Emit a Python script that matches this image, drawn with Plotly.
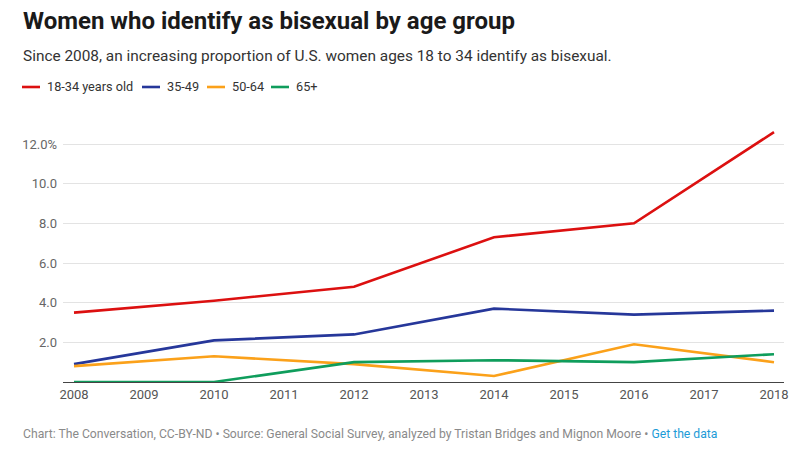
import plotly.graph_objects as go

years = [2008, 2010, 2012, 2014, 2016, 2018]
series_names = ["18-34 years old", "35-49", "50-64", "65+"]
age_18_34 = [3.5, 4.1, 4.8, 7.3, 8.0, 12.6]
age_35_49 = [0.9, 2.1, 2.4, 3.7, 3.4, 3.6]
age_50_64 = [0.8, 1.3, 0.9, 0.3, 1.9, 1.0]
age_65_plus = [0.0, 0.0, 1.0, 1.1, 1.0, 1.4]
colors = ["#dc1010", "#26379a", "#fba11a", "#0f9d5c"]
x_ticks = list(range(2008, 2019))
y_ticks = [2, 4, 6, 8, 10, 12]
y_tick_text = ["2.0", "4.0", "6.0", "8.0", "10.0", "12.0%"]

FONT = "Roboto, 'Noto Sans', Arial, sans-serif"

# page body has an 8px default margin: work in reference coords, offset by 8
OFF = 8
FW, FH = 800 - OFF, 456 - OFF

fig = go.Figure()
for name, vals, col in zip(series_names, [age_18_34, age_35_49, age_50_64, age_65_plus], colors):
    fig.add_trace(go.Scatter(x=years, y=vals, mode="lines", name=name,
                             line=dict(color=col, width=2.6), showlegend=False,
                             hovertemplate="%{x}: %{y:.1f}%<extra>" + name + "</extra>"))

# plot area in reference coords: x 63..784 px, y 130..382 px
L, R, T, B = 63, 784, 130, 382
W, H = R - L, B - T

def px(x):
    return (x - L) / W

def py(y):
    return (B - y) / H

# manual legend
leg_items = [(22, 45, "18-34 years old"), (142, 165, "35-49"), (207, 230, "50-64"), (271, 294, "65+")]
for (sx, tx, label), col in zip(leg_items, colors):
    fig.add_shape(type="line", xref="paper", yref="paper",
                  x0=px(sx), x1=px(sx + 18), y0=py(87), y1=py(87),
                  line=dict(color=col, width=2.6))
    fig.add_annotation(xref="paper", yref="paper", x=px(tx), y=py(87),
                       text=label, showarrow=False, xanchor="left", yanchor="middle",
                       font=dict(family=FONT, size=12.7, color="#333333"))

fig.add_annotation(xref="paper", yref="paper", x=px(21), y=py(21),
                   text="<b>Women who identify as bisexual by age group</b>",
                   showarrow=False, xanchor="left", yanchor="middle",
                   font=dict(family=FONT, size=24, color="#1a1a1a"))
fig.add_annotation(xref="paper", yref="paper", x=px(21), y=py(56),
                   text="Since 2008, an increasing proportion of U.S. women ages 18 to 34 identify as bisexual.",
                   showarrow=False, xanchor="left", yanchor="middle",
                   font=dict(family=FONT, size=15.4, color="#333333"))
fig.add_annotation(xref="paper", yref="paper", x=px(21), y=py(434),
                   text="Chart: The Conversation, CC-BY-ND • Source: General Social Survey, analyzed by Tristan Bridges and Mignon Moore • <span style='color:#1d9bd7'>Get the data</span>",
                   showarrow=False, xanchor="left", yanchor="middle",
                   font=dict(family=FONT, size=12.2, color="#8a8a8a"))

fig.update_layout(
    width=FW, height=FH,
    margin=dict(l=L - OFF, r=800 - R, t=T - OFF, b=456 - B, pad=0),
    paper_bgcolor="white", plot_bgcolor="white",
    font=dict(family=FONT),
    xaxis=dict(range=[2008 - 11 / 70, 2018 + 10 / 70], tickvals=x_ticks,
               ticktext=[str(v) for v in x_ticks], showgrid=False, zeroline=False,
               showline=True, linecolor="#444444", linewidth=1.3,
               ticks="", tickfont=dict(family=FONT, size=13, color="#555555"),
               fixedrange=True),
    yaxis=dict(range=[0, H / 19.83], tickvals=y_ticks, ticktext=y_tick_text,
               showgrid=True, gridcolor="#e3e3e3", gridwidth=1, zeroline=False,
               ticks="", ticklabelstandoff=5,
               tickfont=dict(family=FONT, size=13, color="#666666"),
               fixedrange=True),
    hovermode="closest",
)

fig.write_html("out.html")
